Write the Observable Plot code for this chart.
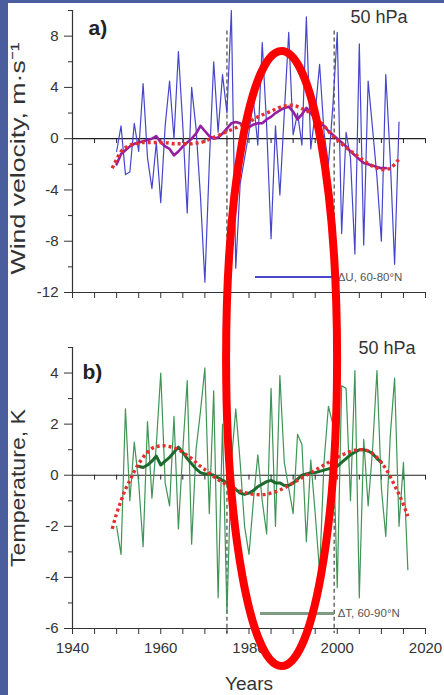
<!DOCTYPE html>
<html><head><meta charset="utf-8">
<script src="https://cdn.jsdelivr.net/npm/d3@7"></script>
<script src="https://cdn.jsdelivr.net/npm/@observablehq/plot@0.6"></script>
<style>
html,body{margin:0;padding:0;background:#fff;}
#page{position:relative;width:444px;height:695px;overflow:hidden;background:#fff;font-family:"Liberation Sans",Arial,sans-serif;}
.panel{position:absolute;left:0;}
.bord{position:absolute;background:#4a5d9c;z-index:5;}
.leg{position:absolute;z-index:3;}
.legtxt{position:absolute;z-index:3;font-size:11.5px;color:#555;white-space:nowrap;line-height:12px;}
#ov{position:absolute;left:0;top:0;z-index:4;pointer-events:none;}
</style></head>
<body><div id="page">
<div class="bord" style="left:0;top:0;width:8px;height:695px"></div>
<div class="bord" style="left:0;top:0;width:444px;height:3px"></div>
<div id="pa" class="panel" style="top:0"></div>
<div id="pb" class="panel" style="top:337px"></div>
</div>
<script>
// ---- data ----
const xTicks = [1940,1945,1950,1955,1960,1965,1970,1975,1980,1985,1990,1995,2000,2005,2010,2015,2020];
const xLabelYears = [1940,1960,1980,2000,2020];
const yMajorA = [-12,-8,-4,0,4,8];
const yMinorA = [-10,-6,-2,2,6,10];
const yMajorB = [-6,-4,-2,0,2,4];
const yMinorB = [-5,-3,-1,1,3,5];
const dashYears = [1975, 1999.3];
const ellipseYear = 1987.5;

// panel a: wind velocity anomaly 60-80N, 50 hPa
const windStart = 1950;
const windU = [-1.0,1.0,-2.8,-2.6,1.2,-1.0,4.3,-1.5,-3.9,-0.3,
  -5.0,1.0,4.5,0.0,6.8,1.0,-5.8,4.0,0.8,-4.5,
  -11.2,-2.0,6.0,0.5,5.0,2.0,10.0,-10.1,-3.5,-1.5,
  0.5,3.0,-0.5,7.5,1.0,-7.8,1.0,-4.4,2.0,8.3,
  0.3,2.0,-0.5,9.5,-0.8,2.0,5.8,0.5,-2.0,2.5,
  8.3,-7.4,0.5,-1.5,-9.0,7.4,-8.3,4.5,0.8,-3.0,
  -8.0,5.0,-1.5,-9.8,1.3];
const windSmoothStart = 1950;
const windSmooth = [-2.0,-1.2,-0.9,-0.6,-0.4,-0.3,-0.2,-0.1,0.0,0.2,
  -0.3,-0.6,-0.8,-1.3,-1.0,-0.6,-0.3,0.0,0.4,1.0,
  0.6,0.2,0.0,0.1,0.4,0.8,1.2,1.3,1.2,1.0,
  0.9,1.1,1.2,1.2,1.5,1.7,2.0,2.2,2.4,2.5,
  2.1,1.5,1.9,2.4,2.0,1.6,1.2,1.0,0.6,0.3,
  0.0,-0.3,-0.6,-1.0,-1.3,-1.6,-1.9,-2.0,-2.1,-2.2,
  -2.3,-2.3];
const windFitStart = 1949;
const windFit = [-2.3,-1.6,-1.0,-0.7,-0.5,-0.4,-0.35,-0.3,-0.3,-0.3,
  -0.3,-0.3,-0.3,-0.35,-0.4,-0.4,-0.4,-0.4,-0.4,-0.35,
  -0.3,-0.2,-0.05,0.1,0.25,0.4,0.55,0.7,0.85,1.0,
  1.15,1.3,1.5,1.7,1.85,2.0,2.15,2.3,2.45,2.55,
  2.6,2.6,2.5,2.35,2.2,1.95,1.7,1.35,1.0,0.6,
  0.2,-0.1,-0.4,-0.7,-0.95,-1.2,-1.45,-1.7,-1.95,-2.15,
  -2.3,-2.4,-2.4,-2.3,-2.0,-1.6];

// panel b: temperature anomaly 60-90N, 50 hPa
const tempStart = 1950;
const tempT = [-2.0,-3.1,2.6,-1.0,1.3,-0.3,-2.8,2.1,-0.9,1.2,
  4.0,-0.3,-1.2,2.3,-2.1,1.0,3.7,-2.7,1.0,2.5,
  4.2,-1.5,3.3,-4.8,2.0,-5.4,0.5,2.6,0.5,-2.0,
  -3.1,-1.0,0.8,-1.0,-2.3,3.4,-2.0,3.9,0.5,-0.5,
  -1.5,1.6,1.2,-2.6,0.6,-1.5,-3.8,0.5,2.7,2.0,
  -4.4,3.5,3.4,-1.0,4.1,-4.8,1.4,-1.2,1.0,4.1,
  -0.5,-2.4,1.5,3.8,-2.0,0.5,-3.7];
const tempSmoothStart = 1955;
const tempSmooth = [0.35,0.3,0.4,0.55,0.75,0.4,0.55,0.7,0.9,1.1,
  0.9,0.65,0.45,0.25,0.1,0.05,0.05,0.0,-0.1,-0.2,
  -0.3,-0.4,-0.55,-0.7,-0.75,-0.7,-0.6,-0.45,-0.35,-0.25,
  -0.2,-0.3,-0.3,-0.4,-0.4,-0.3,-0.15,0.0,0.05,0.1,
  0.1,0.15,0.2,0.25,0.25,0.35,0.5,0.65,0.8,0.9,
  1.0,1.0,0.95,0.85,0.65,0.5];
const tempFitStart = 1949;
const tempFit = [-2.1,-1.5,-1.0,-0.55,-0.2,0.15,0.45,0.7,0.9,1.05,
  1.12,1.15,1.15,1.12,1.08,1.0,0.9,0.78,0.65,0.5,
  0.35,0.22,0.08,-0.05,-0.17,-0.28,-0.38,-0.47,-0.55,-0.62,
  -0.68,-0.72,-0.75,-0.76,-0.76,-0.74,-0.7,-0.65,-0.58,-0.5,
  -0.4,-0.3,-0.2,-0.1,0.0,0.1,0.2,0.3,0.4,0.5,
  0.6,0.7,0.78,0.86,0.93,0.98,1.0,1.0,0.95,0.85,
  0.7,0.5,0.25,-0.05,-0.4,-0.75,-1.15,-1.6];

const series = (start, vals) => vals.map((v, i) => ({year: start + i, v}));

const font = '"Liberation Sans", Arial, sans-serif';
const common = {
  width: 444, marginLeft: 72, marginRight: 19,
  x: {domain: [1940, 2020], label: null},
  style: {fontFamily: font, fontSize: "14px", color: "#333", background: "transparent"}
};
const numFmt = d => String(d);
const fitStyle = {x: "year", y: "v", stroke: "#e62e2e", strokeWidth: 3.4, strokeDasharray: "3,3", strokeLinecap: "butt", curve: "natural"};

const plotA = Plot.plot({
  ...common,
  height: 337, marginTop: 10, marginBottom: 45,
  y: {domain: [-12, 10], label: null},
  marks: [
    Plot.ruleX(dashYears, {y1: 8.4, y2: -16, stroke: "#444", strokeWidth: 1.2, strokeDasharray: "4,3"}),
    Plot.ruleY([0], {stroke: "#222", strokeWidth: 1.2}),
    Plot.ruleX(xTicks, {y1: 0, y2: -0.38, stroke: "#222"}),
    Plot.line(series(windStart, windU), {x: "year", y: "v", stroke: "#4646cc", strokeWidth: 1.2}),
    Plot.line(series(windSmoothStart, windSmooth), {x: "year", y: "v", stroke: "#951fa0", strokeWidth: 2.6}),
    Plot.line(series(windFitStart, windFit), fitStyle),
    Plot.ruleX([1940], {stroke: "#333", strokeWidth: 1.2}),
    Plot.ruleY([-12], {stroke: "#333", strokeWidth: 1.2}),
    Plot.axisY({ticks: yMajorA, tickSize: 8, tickPadding: 6, tickFormat: numFmt, fontSize: 15, label: null}),
    Plot.axisY({ticks: yMinorA, tickSize: 4, tickFormat: () => "", label: null}),
    Plot.axisX({ticks: xTicks, tickSize: 6, tickFormat: () => "", label: null}),
    Plot.text(["a)"], {frameAnchor: "top-left", dx: 16, dy: 18, lineAnchor: "middle", fontSize: 21, fontWeight: "bold", fill: "#222"}),
    Plot.text(["50 hPa"], {frameAnchor: "top-right", dx: -18, dy: 7, lineAnchor: "middle", textAnchor: "end", fontSize: 18, fill: "#333"}),
    Plot.text(["Wind velocity, m\u00b7s\u207b\u00b9"], {frameAnchor: "left", dx: -54, dy: 7, rotate: -90, textAnchor: "middle", lineAnchor: "middle", fontSize: 21, fill: "#333"})
  ]
});

const plotB = Plot.plot({
  ...common,
  height: 358, marginTop: 10, marginBottom: 67,
  y: {domain: [-6, 5], label: null},
  marks: [
    Plot.ruleX(dashYears, {y1: 5.4, y2: -6.2, stroke: "#444", strokeWidth: 1.2, strokeDasharray: "4,3"}),
    Plot.ruleY([0], {stroke: "#222", strokeWidth: 1.2}),
    Plot.ruleX(xTicks, {y1: 0, y2: -0.19, stroke: "#222"}),
    Plot.line(series(tempStart, tempT), {x: "year", y: "v", stroke: "#3f9456", strokeWidth: 1.2}),
    Plot.line(series(tempSmoothStart, tempSmooth), {x: "year", y: "v", stroke: "#1d6a2f", strokeWidth: 3}),
    Plot.line(series(tempFitStart, tempFit), fitStyle),
    Plot.ruleX([1940], {stroke: "#333", strokeWidth: 1.2}),
    Plot.ruleY([-6], {stroke: "#333", strokeWidth: 1.2}),
    Plot.axisY({ticks: yMajorB, tickSize: 8, tickPadding: 6, tickFormat: numFmt, fontSize: 15, label: null}),
    Plot.axisY({ticks: yMinorB, tickSize: 4, tickFormat: () => "", label: null}),
    Plot.axisX({ticks: xTicks, tickSize: 6, tickPadding: 8, fontSize: 15, tickFormat: d => xLabelYears.includes(d) ? String(d) : "", label: null}),
    Plot.text(["b)"], {frameAnchor: "top-left", dx: 10, dy: 25, lineAnchor: "middle", fontSize: 21, fontWeight: "bold", fill: "#222"}),
    Plot.text(["50 hPa"], {frameAnchor: "top-right", dx: -10, dy: 1, lineAnchor: "middle", textAnchor: "end", fontSize: 18, fill: "#333"}),
    Plot.text(["Temperature, K"], {frameAnchor: "left", dx: -54, dy: 0, rotate: -90, textAnchor: "middle", lineAnchor: "middle", fontSize: 20, fill: "#333"}),
    Plot.text(["Years"], {frameAnchor: "bottom", dy: 55, lineAnchor: "middle", fontSize: 19, fill: "#333"})
  ]
});

document.getElementById("pa").appendChild(plotA);
document.getElementById("pb").appendChild(plotB);

// stretch the rotated titles to the reference length
for (const t of document.querySelectorAll("svg text")) {
  if (t.textContent.startsWith("Wind velocity")) { t.setAttribute("textLength", 232); t.setAttribute("lengthAdjust", "spacingAndGlyphs"); }
  if (t.textContent.startsWith("Temperature")) { t.setAttribute("textLength", 158); t.setAttribute("lengthAdjust", "spacingAndGlyphs"); }
}

// legends (positioned via the plot's own x scale)
const xs = plotA.scale("x");
const page = document.getElementById("page");
function legend(top, x1, x2, color, w, label) {
  const l = document.createElement("div");
  l.className = "leg";
  l.style.cssText = `left:${xs.apply(x1)}px;top:${top - w/2}px;width:${xs.apply(x2) - xs.apply(x1)}px;height:${w}px;background:${color}`;
  page.appendChild(l);
  const t = document.createElement("div");
  t.className = "legtxt";
  t.style.cssText = `left:${xs.apply(x2) + 4}px;top:${top - 6}px`;
  t.textContent = label;
  page.appendChild(t);
}
legend(277, 1981.5, 1999.3, "#4848c8", 2, "\u0394U, 60-80\u00b0N");
legend(613, 1982.5, 1999.3, "#7e9c84", 3, "\u0394T, 60-90\u00b0N");

// red highlight ellipse overlay
const ns = "http://www.w3.org/2000/svg";
const ov = document.createElementNS(ns, "svg");
ov.setAttribute("id", "ov"); ov.setAttribute("width", 444); ov.setAttribute("height", 695);
const el = document.createElementNS(ns, "ellipse");
el.setAttribute("cx", xs.apply(ellipseYear)); el.setAttribute("cy", 358.5);
el.setAttribute("rx", 55.5); el.setAttribute("ry", 307.5);
el.setAttribute("fill", "none"); el.setAttribute("stroke", "#ff0000"); el.setAttribute("stroke-width", 8);
ov.appendChild(el);
page.appendChild(ov);
</script>
</body></html>
